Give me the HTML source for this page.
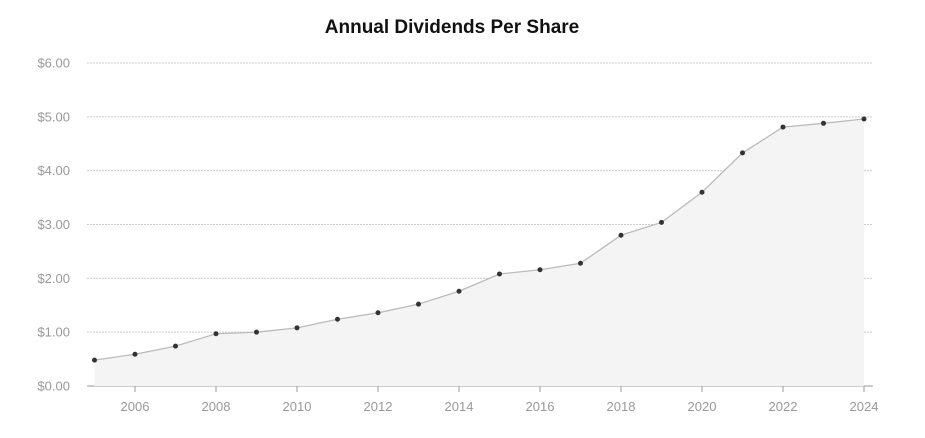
<!DOCTYPE html>
<html><head><meta charset="utf-8"><style>
html,body{margin:0;padding:0;background:#fff;width:925px;height:438px;overflow:hidden;font-family:"Liberation Sans",sans-serif}
</style></head><body>
<svg id="chart" width="925" height="438" xmlns="http://www.w3.org/2000/svg">
<text x="452" y="33" text-anchor="middle" font-family="Liberation Sans, sans-serif" font-size="19" font-weight="bold" fill="#111">Annual Dividends Per Share</text>
<g id="grid"></g><g id="area"></g><g id="xaxis"></g><g id="yaxis"></g><g id="points"></g>
</svg>
<script>
const years=[2005,2006,2007,2008,2009,2010,2011,2012,2013,2014,2015,2016,2017,2018,2019,2020,2021,2022,2023,2024];
const dividends=[0.48,0.59,0.74,0.97,1.00,1.08,1.24,1.36,1.52,1.76,2.08,2.16,2.28,2.80,3.04,3.60,4.33,4.81,4.88,4.96];
const yTicks=[0,1,2,3,4,5,6];
const yTickLabels=["$0.00","$1.00","$2.00","$3.00","$4.00","$5.00","$6.00"];
const xTicks=[2006,2008,2010,2012,2014,2016,2018,2020,2022,2024];
const NS="http://www.w3.org/2000/svg";
const x=v=>94.5+(v-2005)*40.5;
const y=v=>386-v*53.83;
function mk(tag,attrs,parent){const e=document.createElementNS(NS,tag);for(const k in attrs)e.setAttribute(k,attrs[k]);parent.appendChild(e);return e;}
const grid=document.getElementById('grid'),ya=document.getElementById('yaxis'),xa=document.getElementById('xaxis'),ar=document.getElementById('area'),pts=document.getElementById('points');
yTicks.forEach((t,i)=>{
 const l=mk('line',{x1:87,x2:873,y1:y(t),y2:y(t),stroke:t===0?'#999':'#ccc','stroke-dasharray':t===0?'':'2,1','stroke-width':1},grid);
 
 
 const tx=mk('text',{x:70,y:y(t)+4.5,'text-anchor':'end','font-size':13,fill:'#999'},ya);
 tx.textContent=yTickLabels[i];
 
 
});
xTicks.forEach(t=>{
 const tk=mk('line',{x1:x(t),x2:x(t),y1:386,y2:392,stroke:'#999'},xa);
 
 
 const tx=mk('text',{x:x(t),y:411,'text-anchor':'middle','font-size':13,fill:'#999'},xa);
 tx.textContent=t;
 
 
});
let d='';years.forEach((yr,i)=>{d+=(i?'L':'M')+x(yr)+','+y(dividends[i]);});
const area=mk('path',{d:d+'L'+x(years[years.length-1])+','+y(0)+'L'+x(years[0])+','+y(0)+'Z',fill:'#f4f4f4'},ar);


const line=mk('path',{d:d,fill:'none',stroke:'#bbb','stroke-width':1.3},ar);


years.forEach((yr,i)=>{
 const c=mk('circle',{cx:x(yr),cy:y(dividends[i]),r:2.5,fill:'#333'},pts);
 
 
});
</script>
</body></html>
